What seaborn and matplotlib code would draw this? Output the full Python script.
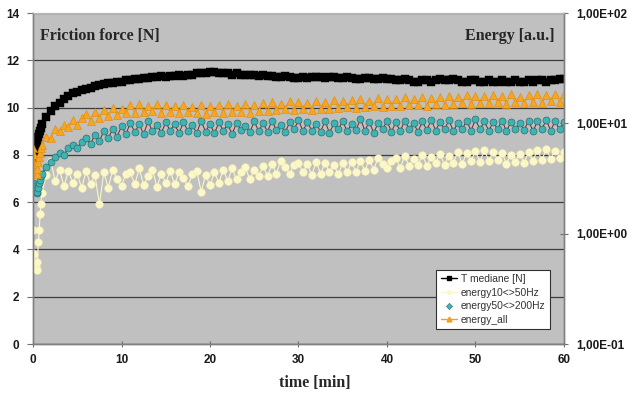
import numpy as np
import pandas as pd
import matplotlib
matplotlib.use("Agg")
import matplotlib.pyplot as plt
from matplotlib.lines import Line2D
from matplotlib.ticker import FixedLocator, FuncFormatter, NullLocator
import seaborn as sns

# sampling times [min]: fine steps during run-in, then every half minute
minutes = np.concatenate([np.arange(0, 1.0, 0.1), np.arange(1.0, 60.01, 0.5)])

# friction force, median per sample [N]
t_mediane = [
    7.8, 7.95, 8.1, 8.3, 8.45, 8.6, 8.75, 8.9, 9.0, 9.15,
    9.3, 9.6, 9.85, 10.05, 10.2, 10.35, 10.5, 10.6, 10.65, 10.75,
    10.8, 10.85, 10.9, 10.95, 11.0, 11.05, 11.05, 11.1, 11.1, 11.15,
    11.15, 11.2, 11.2, 11.25, 11.25, 11.3, 11.3, 11.35, 11.3, 11.35,
    11.35, 11.4, 11.35, 11.4, 11.4, 11.45, 11.45, 11.45, 11.5, 11.5,
    11.45, 11.45, 11.45, 11.4, 11.45, 11.4, 11.4, 11.4, 11.4, 11.35,
    11.4, 11.35, 11.35, 11.3, 11.3, 11.35, 11.3, 11.25, 11.25, 11.3,
    11.25, 11.3, 11.3, 11.3, 11.25, 11.3, 11.3, 11.25, 11.25, 11.3,
    11.25, 11.2, 11.2, 11.25, 11.25, 11.2, 11.2, 11.25, 11.2, 11.2,
    11.15, 11.15, 11.2, 11.15, 11.1, 11.1, 11.15, 11.15, 11.1, 11.15,
    11.2, 11.15, 11.15, 11.2, 11.15, 11.1, 11.1, 11.15, 11.15, 11.1,
    11.1, 11.15, 11.1, 11.1, 11.15, 11.1, 11.1, 11.15, 11.1, 11.1,
    11.15, 11.1, 11.15, 11.15, 11.1, 11.15, 11.15, 11.2, 11.2,
]

# acoustic energy, 10-50 Hz band [a.u.]
energy_10_50 = [
    1.07, 0.652, 0.535, 0.497, 0.473, 0.549, 0.835, 1.07, 1.51, 1.84,
    2.35, 3.4, 4.6, 3.0, 3.8, 2.7, 3.7, 2.9, 3.5, 2.6,
    3.7, 2.8, 3.4, 1.84, 3.6, 2.6, 3.8, 3.1, 2.7, 3.5,
    3.6, 2.8, 3.9, 2.75, 3.3, 3.8, 2.65, 3.5, 2.9, 3.7,
    2.8, 3.6, 3.2, 2.7, 3.45, 3.7, 2.41, 3.4, 2.75, 3.6,
    2.9, 3.8, 3.0, 3.9, 3.1, 3.6, 4.0, 3.1, 3.8, 3.3,
    4.1, 3.3, 4.3, 3.5, 4.6, 4.0, 3.5, 4.2, 4.4, 3.6,
    4.3, 3.4, 4.5, 3.5, 4.4, 3.6, 4.2, 3.45, 4.4, 3.6,
    4.5, 3.6, 4.6, 3.7, 4.7, 3.8, 4.9, 4.3, 3.9, 4.6,
    4.9, 3.9, 5.1, 4.1, 4.8, 4.2, 5.2, 4.1, 5.0, 4.4,
    5.3, 4.2, 5.1, 4.4, 5.5, 4.3, 5.4, 4.6, 5.6, 4.5,
    5.7, 4.6, 5.5, 4.7, 5.4, 4.3, 5.2, 4.5, 5.3, 4.4,
    5.5, 4.6, 5.7, 4.7, 5.8, 4.8, 5.6, 4.9, 5.5,
]

# acoustic energy, 50-200 Hz band [a.u.]
energy_50_200 = [
    2.87, 2.73, 2.60, 2.47, 2.35, 2.41, 2.60, 2.87, 3.09, 3.32,
    3.49, 4.05, 4.47, 4.93, 5.44, 5.18, 6.01, 6.31, 6.01, 6.80,
    7.3, 6.5, 7.9, 6.9, 8.5, 7.3, 8.9, 7.6, 9.4, 8.0,
    10.1, 8.3, 9.8, 8.0, 10.4, 8.5, 9.7, 8.2, 10.2, 8.6,
    9.9, 8.1, 10.3, 8.5, 9.6, 8.2, 10.5, 8.4, 9.9, 8.1,
    10.2, 8.6, 9.8, 8.0, 10.1, 8.7, 9.5, 8.3, 10.4, 8.5,
    10.0, 8.4, 10.6, 8.7, 9.7, 8.3, 10.2, 8.8, 10.7, 8.5,
    10.3, 8.6, 9.9, 8.4, 10.5, 8.2, 10.0, 8.9, 10.4, 8.5,
    9.8, 8.7, 11.0, 8.6, 10.3, 8.2, 10.1, 8.8, 10.5, 8.4,
    10.2, 8.5, 10.6, 8.9, 10.0, 8.4, 10.4, 8.7, 10.8, 8.6,
    10.3, 8.8, 10.7, 8.5, 10.1, 8.9, 10.5, 8.6, 10.9, 8.8,
    10.4, 8.6, 10.2, 8.9, 10.6, 8.5, 10.3, 8.8, 10.0, 8.7,
    10.6, 8.5, 10.4, 8.9, 10.7, 8.6, 10.5, 8.8, 10.3,
]

# acoustic energy, full band [a.u.]
energy_all = [
    6.01, 5.18, 4.25, 3.67, 3.49, 3.85, 4.47, 4.93, 5.44, 6.01,
    6.31, 7.6, 7.3, 8.9, 8.6, 9.6, 9.2, 10.8, 9.7, 11.3,
    12.2, 10.6, 12.6, 11.2, 13.1, 11.6, 13.8, 12.0, 13.4, 12.4,
    14.6, 12.4, 14.9, 12.6, 14.4, 12.9, 15.1, 12.5, 14.7, 12.8,
    14.5, 12.3, 14.8, 12.7, 14.2, 12.4, 14.6, 12.2, 14.4, 12.6,
    14.7, 12.3, 14.9, 12.6, 14.5, 12.8, 15.0, 12.5, 14.8, 13.0,
    15.2, 12.9, 15.6, 13.2, 15.1, 13.4, 15.8, 13.1, 15.5, 13.5,
    15.4, 13.3, 16.0, 13.6, 15.7, 13.4, 16.2, 13.8, 15.9, 14.0,
    16.3, 13.9, 16.6, 14.2, 16.1, 14.4, 16.9, 14.1, 16.5, 14.5,
    16.8, 14.3, 17.2, 14.6, 16.6, 14.8, 17.5, 14.5, 17.0, 14.9,
    17.3, 14.8, 17.8, 15.0, 17.4, 15.3, 17.9, 15.1, 17.6, 15.4,
    17.7, 15.2, 18.1, 15.5, 17.8, 15.0, 18.3, 15.6, 17.5, 15.3,
    18.0, 15.6, 18.4, 15.4, 18.2, 15.8, 18.6, 15.7, 18.3,
]

series_labels = ["T mediane [N]", "energy10<>50Hz", "energy50<>200Hz", "energy_all"]
x_ticks = [0, 10, 20, 30, 40, 50, 60]
force_ticks = [0, 2, 4, 6, 8, 10, 12, 14]
energy_ticks = [0.1, 1, 10, 100]

sns.set_style("white")
plt.rcParams["font.family"] = ["Liberation Sans", "DejaVu Sans"]

fig = plt.figure(figsize=(6.30, 3.99), dpi=100)
ax = fig.add_axes([0.0524, 0.1378, 0.8428, 0.8295])
ax.set_facecolor("#c0c0c0")

df = pd.DataFrame({
    "t": minutes,
    "force": t_mediane,
    "e1": energy_10_50,
    "e2": energy_50_200,
    "e3": energy_all,
})

# friction force on the left axis
sns.lineplot(data=df, x="t", y="force", ax=ax, color="black", linewidth=1.2,
             marker="s", markersize=5.4, markeredgecolor="black",
             markeredgewidth=0.3, errorbar=None, legend=False)

ax.set_xlim(0, 60)
ax.set_ylim(0, 14)
ax.yaxis.set_major_locator(FixedLocator(force_ticks))
ax.xaxis.set_major_locator(FixedLocator(x_ticks))
ax.yaxis.grid(True, color="#3c3c3c", linewidth=0.9)
ax.xaxis.grid(False)
ax.set_axisbelow(True)

# energies on a logarithmic right axis
ax2 = ax.twinx()
sns.lineplot(data=df, x="t", y="e1", ax=ax2, color="#fbf7c6", linewidth=0.8,
             marker="o", markersize=5.6, markeredgecolor="#f3eeb4",
             markeredgewidth=0.3, errorbar=None, legend=False)
sns.lineplot(data=df, x="t", y="e2", ax=ax2, color="#7a2222", linewidth=0.7,
             marker="o", markersize=5.0, markerfacecolor="#3fb3b3",
             markeredgecolor="#2a6f6f", markeredgewidth=0.5,
             errorbar=None, legend=False)
sns.lineplot(data=df, x="t", y="e3", ax=ax2, color="#f2a11e", linewidth=0.8,
             marker="^", markersize=5.2, markerfacecolor="#f6a623",
             markeredgecolor="#e38a00", markeredgewidth=0.4,
             errorbar=None, legend=False)
ax2.set_yscale("log")
ax2.set_ylim(0.1, 100)
ax2.yaxis.set_major_locator(FixedLocator(energy_ticks))
ax2.yaxis.set_minor_locator(NullLocator())
ax2.yaxis.set_major_formatter(FuncFormatter(lambda v, p: ("%.2E" % v).replace(".", ",")))
ax2.grid(False)

for a in (ax, ax2):
    a.set_xlabel("")
    a.set_ylabel("")
    for side in ("left", "bottom", "right"):
        a.spines[side].set_visible(True)
        a.spines[side].set_color("#808080")
        a.spines[side].set_linewidth(1.0)
    a.spines["top"].set_visible(True)
    a.spines["top"].set_color("#b8b8b8")

ax.tick_params(axis="y", direction="out", length=4, width=0.8, color="#707070",
               labelsize=8.5, pad=6, left=True)
ax.tick_params(axis="x", direction="inout", length=5, width=0.8, color="#707070",
               labelsize=8.5, pad=5, bottom=True)
ax2.tick_params(axis="y", direction="inout", length=6, width=0.8, color="#707070",
                labelsize=8.5, pad=6, right=True)
for lbl in ax.get_xticklabels() + ax.get_yticklabels() + ax2.get_yticklabels():
    lbl.set_fontweight("bold")
    lbl.set_color("#1a1a1a")

serif = ["Liberation Serif", "DejaVu Serif"]
ax.text(0.013, 0.955, "Friction force [N]", transform=ax.transAxes, ha="left",
        va="top", fontsize=11.5, fontweight="bold", family=serif)
ax.text(0.983, 0.955, "Energy [a.u.]", transform=ax.transAxes, ha="right",
        va="top", fontsize=11.5, fontweight="bold", family=serif)
fig.text(0.50, 0.04, "time [min]", ha="center", va="center", fontsize=11.5,
         fontweight="bold", family=serif)

handles = [
    Line2D([], [], color="black", linewidth=1.0, marker="s", markersize=3.5),
    Line2D([], [], color="#fbf7c6", linewidth=1.0, marker="o", markersize=2.5),
    Line2D([], [], linestyle="none", marker="D", markersize=3.2,
           markerfacecolor="#3fb3b3", markeredgecolor="#2a6f6f", markeredgewidth=0.4),
    Line2D([], [], color="#f2a11e", linewidth=1.0, marker="^", markersize=3.5),
]
leg = ax2.legend(handles, series_labels, loc="lower right",
                 bbox_to_anchor=(0.983, 0.03), frameon=True, fancybox=False,
                 handlelength=1.6, handletextpad=0.4, borderpad=0.4,
                 labelspacing=0.35,
                 prop={"family": ["Liberation Sans Narrow", "Liberation Sans"], "size": 7.4})
leg.get_frame().set_edgecolor("#303030")
leg.get_frame().set_linewidth(0.8)
leg.get_frame().set_facecolor("white")
leg.get_frame().set_alpha(1)
for txt in leg.get_texts():
    txt.set_color("#333333")

fig.savefig("out.png", dpi=100)
